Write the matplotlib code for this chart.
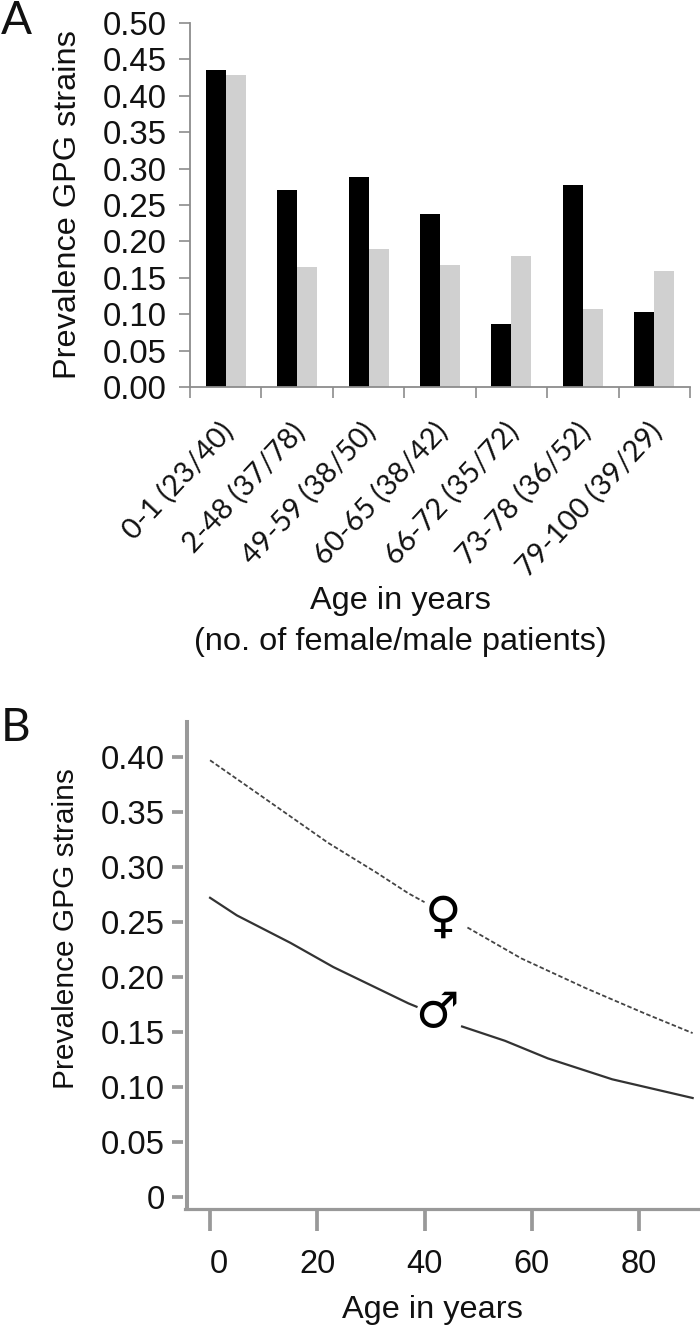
import numpy as np
import matplotlib
matplotlib.use("Agg")
import matplotlib.pyplot as plt

plt.rcParams['font.family'] = ['Liberation Sans', 'DejaVu Sans']

# panel A
groups = ['0-1 (23/40)', '2-48 (37/78)', '49-59 (38/50)', '60-65 (38/42)',
          '66-72 (35/72)', '73-78 (36/52)', '79-100 (39/29)']
female = [0.435, 0.270, 0.289, 0.237, 0.086, 0.278, 0.103]
male = [0.428, 0.165, 0.190, 0.167, 0.180, 0.107, 0.160]
ticks_a = [0, 0.05, 0.10, 0.15, 0.20, 0.25, 0.30, 0.35, 0.40, 0.45, 0.50]

# panel B, both lines are broken where the symbols sit
age_f1 = [0, 10, 22, 31, 37, 40]
line_f1 = [0.397, 0.363, 0.322, 0.295, 0.276, 0.268]
age_f2 = [48, 58, 70, 81, 90]
line_f2 = [0.245, 0.217, 0.190, 0.167, 0.149]
age_m1 = [0, 5, 15, 23, 37, 38.5]
line_m1 = [0.272, 0.256, 0.231, 0.209, 0.176, 0.173]
age_m2 = [47, 55, 63, 75, 90]
line_m2 = [0.155, 0.142, 0.126, 0.107, 0.090]
ticks_b = [0, 0.05, 0.10, 0.15, 0.20, 0.25, 0.30, 0.35, 0.40]
ticks_x = [0, 20, 40, 60, 80]

W, H = 700, 1328
fig = plt.figure(figsize=(W/100, H/100), dpi=100)
grey = '#999999'
ink = '#111111'
label_size = 23.4
tick_size = 23.8


def box(l, t, r, b):
    return [l/W, 1-b/H, (r-l)/W, (b-t)/H]


ax = fig.add_axes(box(190, 23, 690, 387))
x = np.arange(len(groups))
ax.bar(x-0.14, female, 0.28, color='black')
ax.bar(x+0.14, male, 0.28, color='#d0d0d0')
ax.set_xlim(-0.5, 6.5)
ax.set_ylim(0, 0.5)
ax.set_yticks(ticks_a)
ax.set_yticklabels(['%.2f' % v for v in ticks_a], fontsize=tick_size, color=ink)
ax.set_xticks(np.arange(-0.5, 7))
ax.set_xticklabels([])
ax.tick_params(axis='y', length=8, width=1.2, color='#8c8c8c', pad=9)
ax.tick_params(axis='x', length=8, width=1.2, color='#8c8c8c', direction='out')
for i, g in enumerate(groups):
    ax.annotate(g, (i+0.08, 0), xytext=(-2, -29), textcoords='offset points',
                rotation=47, ha='right', va='center', rotation_mode='anchor',
                fontsize=21, color=ink, family='Lato')
ax.set_ylabel('Prevalence GPG strains', fontsize=label_size, color=ink)
ax.yaxis.set_label_coords(-107/500, 0.5)
for s in ['top', 'right']:
    ax.spines[s].set_visible(False)
for s in ['left', 'bottom']:
    ax.spines[s].set_color('#8c8c8c')
    ax.spines[s].set_linewidth(1.3)

fig.text(400/W, 1-601/H, 'Age in years', ha='center', va='center', fontsize=label_size, color=ink)
fig.text(400/W, 1-642/H, '(no. of female/male patients)', ha='center', va='center', fontsize=label_size, color=ink)
fig.text(1/W, 1-21/H, 'A', ha='left', va='center', fontsize=33, family='Lato', color=ink)
fig.text(1/W, 1-728/H, 'B', ha='left', va='center', fontsize=33, family='Lato', color=ink)

# axes edge sits at the tick ends, the drawn y axis line stands 4 px to the right of it
ax2 = fig.add_axes(box(183, 722, 698, 1209))
x_left = -4.3
ax2.plot(age_f1, line_f1, color='#444444', lw=1.3, ls=(0, (2.5, 1.3)))
ax2.plot(age_f2, line_f2, color='#444444', lw=1.3, ls=(0, (2.5, 1.3)))
ax2.plot(age_m1, line_m1, color='#333333', lw=1.6)
ax2.plot(age_m2, line_m2, color='#333333', lw=1.6)
ax2.set_xlim(-5.05, 91)
ax2.set_ylim(-0.0109, 0.4318)
ax2.axvline(x_left, color=grey, lw=2.9, clip_on=False)
ax2.set_xticks(ticks_x)
ax2.set_yticks(ticks_b)
ax2.set_yticklabels(['0' if v == 0 else '%.2f' % v for v in ticks_b], fontsize=tick_size, color=ink)
ax2.set_xticklabels([str(v) for v in ticks_x], fontsize=23.5, color=ink)
ax2.get_xticklabels()[0].set_ha('left')
ax2.tick_params(axis='y', length=8, width=2.7, color=grey, pad=5)
ax2.tick_params(axis='x', length=16, width=2.7, color=grey, direction='out', pad=13)
ax2.set_ylabel('Prevalence GPG strains', fontsize=21.5, color=ink)
ax2.yaxis.set_label_coords(-103/515, 0.575)
fig.text(432/W, 1-1310/H, 'Age in years', ha='center', va='center', fontsize=label_size, color=ink)
for s in ['top', 'right', 'left']:
    ax2.spines[s].set_visible(False)
ax2.spines['bottom'].set_bounds(x_left-0.3, 91)
ax2.spines['bottom'].set_color(grey)
ax2.spines['bottom'].set_linewidth(2.3)

ax2.text(43.5, 0.2536, '\u2640', fontsize=36, ha='center', va='center', family='DejaVu Sans', color='black')
ax2.text(42.4, 0.167, '\u2642', fontsize=35, ha='center', va='center', family='DejaVu Sans', color='black')

fig.savefig('out.png', dpi=100)
